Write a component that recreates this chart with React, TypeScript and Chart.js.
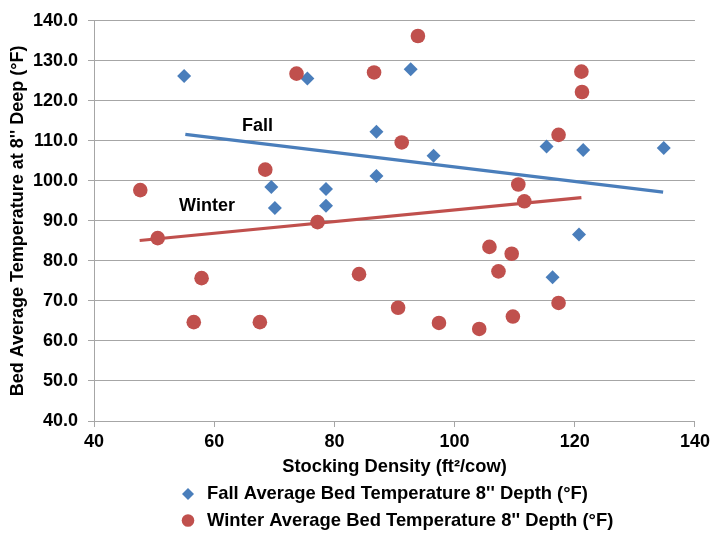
import React, { useEffect, useRef } from 'react';
import { Chart, registerables } from 'chart.js';

Chart.register(...registerables);

// ---- Data ----
const fallX = [55.0, 75.5, 92.7, 87.0, 87.0, 69.5, 70.1, 78.6, 78.6, 96.5, 115.3, 121.4, 134.8, 120.7, 116.3];
const fallY = [126.2, 125.6, 127.9, 112.3, 101.2, 98.5, 93.2, 98.0, 93.8, 106.3, 108.6, 107.7, 108.2, 86.6, 75.9];

const winterX = [47.7, 50.6, 68.5, 73.7, 77.2, 93.9, 86.6, 91.2, 121.1, 121.2, 117.3, 110.6, 111.6, 105.8, 109.5, 57.9, 56.6, 67.6, 84.1, 107.3, 90.6, 97.4, 104.1, 109.7, 117.3];
const winterY = [97.7, 85.7, 102.8, 126.8, 89.7, 136.2, 127.1, 109.6, 127.3, 122.2, 111.5, 99.1, 94.9, 83.5, 81.8, 75.7, 64.7, 64.7, 76.7, 77.4, 68.3, 64.5, 63.0, 66.1, 69.5];

const fallTrendX = [55.2, 134.7];
const fallTrendY = [111.6, 97.2];
const winterTrendX = [47.6, 121.1];
const winterTrendY = [85.1, 95.8];

const seriesLabels = [
  "Fall Average Bed Temperature 8'' Depth (°F)",
  "Winter Average Bed Temperature 8'' Depth (°F)",
];
const trendLabels = ['Fall', 'Winter'];
const trendLabelX = [67.2, 58.8];
const trendLabelY = [113.8, 93.7];

const xMin = 40, xMax = 140, xStep = 20;
const yMin = 40, yMax = 140, yStep = 10;
const xTitle = 'Stocking Density (ft\u00B2/cow)';
const yTitle = "Bed Average Temperature at 8'' Deep (°F)";

const BLUE = '#4A7EBB';
const RED = '#C0504D';
const FONT = '"Liberation Sans", Arial, sans-serif';
const TEXT = '#000000';
const GRID = '#A6A6A6';

const toPts = (xs: number[], ys: number[]) => xs.map((x, i) => ({ x, y: ys[i] }));

const trendLabelPlugin = {
  id: 'trendLabelPlugin',
  afterDatasetsDraw(chart: any) {
    const { ctx, scales } = chart;
    ctx.save();
    ctx.font = `bold 18px ${FONT}`;
    ctx.fillStyle = TEXT;
    ctx.textAlign = 'center';
    ctx.textBaseline = 'middle';
    trendLabels.forEach((t, i) => {
      ctx.fillText(t, scales.x.getPixelForValue(trendLabelX[i]), scales.y.getPixelForValue(trendLabelY[i]));
    });
    ctx.restore();
  },
};

const legendPlugin = {
  id: 'customLegend',
  afterDraw(chart: any) {
    const ctx = chart.ctx;
    const markerX = 188;
    const textX = 207;
    const rows = [494, 520.5];
    ctx.save();
    ctx.font = `bold 18.4px ${FONT}`;
    ctx.textAlign = 'left';
    ctx.textBaseline = 'middle';
    seriesLabels.forEach((label, i) => {
      const y = rows[i];
      ctx.beginPath();
      if (i === 0) {
        const r = 6;
        ctx.fillStyle = BLUE;
        ctx.moveTo(markerX - r, y);
        ctx.lineTo(markerX, y - r);
        ctx.lineTo(markerX + r, y);
        ctx.lineTo(markerX, y + r);
        ctx.closePath();
      } else {
        ctx.fillStyle = RED;
        ctx.arc(markerX, y, 6.3, 0, Math.PI * 2);
      }
      ctx.fill();
      ctx.fillStyle = TEXT;
      ctx.fillText(label, textX, y);
    });
    ctx.restore();
  },
};

export default function App() {
  const canvasRef = useRef<HTMLCanvasElement | null>(null);

  useEffect(() => {
    document.body.style.margin = '0';
    const canvas = canvasRef.current;
    if (!canvas) return;
    const chart = new Chart(canvas, {
      type: 'scatter',
      data: {
        datasets: [
          {
            label: seriesLabels[0],
            data: toPts(fallX, fallY),
            pointStyle: 'rectRot',
            pointRadius: 7,
            backgroundColor: BLUE,
            borderColor: BLUE,
            borderWidth: 0,
            order: 1,
          },
          {
            label: seriesLabels[1],
            data: toPts(winterX, winterY),
            pointStyle: 'circle',
            pointRadius: 7.3,
            backgroundColor: RED,
            borderColor: RED,
            borderWidth: 0,
            order: 0,
          },
          {
            label: 'Fall trend',
            data: toPts(fallTrendX, fallTrendY),
            showLine: true,
            pointRadius: 0,
            borderColor: BLUE,
            borderWidth: 3.2,
            fill: false,
            order: 3,
          },
          {
            label: 'Winter trend',
            data: toPts(winterTrendX, winterTrendY),
            showLine: true,
            pointRadius: 0,
            borderColor: RED,
            borderWidth: 3.2,
            fill: false,
            order: 2,
          },
        ],
      },
      options: {
        animation: false,
        responsive: false,
        maintainAspectRatio: false,
        events: [],
        layout: { padding: { left: 0, top: 18, right: 16, bottom: 56.4 } },
        plugins: {
          legend: { display: false },
          tooltip: { enabled: false },
        },
        scales: {
          x: {
            type: 'linear',
            min: xMin,
            max: xMax,
            afterFit: (s: any) => { s.height = 56.6; },
            ticks: {
              stepSize: xStep,
              color: TEXT,
              padding: 4,
              font: { family: FONT, size: 18, weight: 'bold' },
              maxRotation: 0,
            },
            grid: {
              drawOnChartArea: false,
              drawTicks: true,
              tickLength: 6,
              color: GRID,
            },
            border: { display: true, color: GRID, width: 1 },
            title: {
              display: true,
              text: xTitle,
              color: TEXT,
              padding: { top: 0, bottom: 0 },
              font: { family: FONT, size: 18.3, weight: 'bold' },
            },
          },
          y: {
            type: 'linear',
            min: yMin,
            max: yMax,
            afterFit: (s: any) => { s.width = 94; },
            ticks: {
              stepSize: yStep,
              color: TEXT,
              padding: 10,
              font: { family: FONT, size: 18, weight: 'bold' },
              callback: (v: any) => Number(v).toFixed(1),
            },
            grid: {
              drawTicks: true,
              tickLength: 6,
              color: GRID,
            },
            border: { display: true, color: GRID, width: 1 },
            title: {
              display: true,
              text: yTitle,
              color: TEXT,
              padding: { top: 7.2, bottom: 0 },
              font: { family: FONT, size: 18, weight: 'bold' },
            },
          },
        },
      },
      plugins: [trendLabelPlugin, legendPlugin],
    } as any);
    return () => chart.destroy();
  }, []);

  return (
    <div style={{ width: 714, height: 534, position: 'relative', overflow: 'hidden' }}>
      <canvas ref={canvasRef} width={714} height={534} style={{ display: 'block', width: 714, height: 534 }} />
    </div>
  );
}
